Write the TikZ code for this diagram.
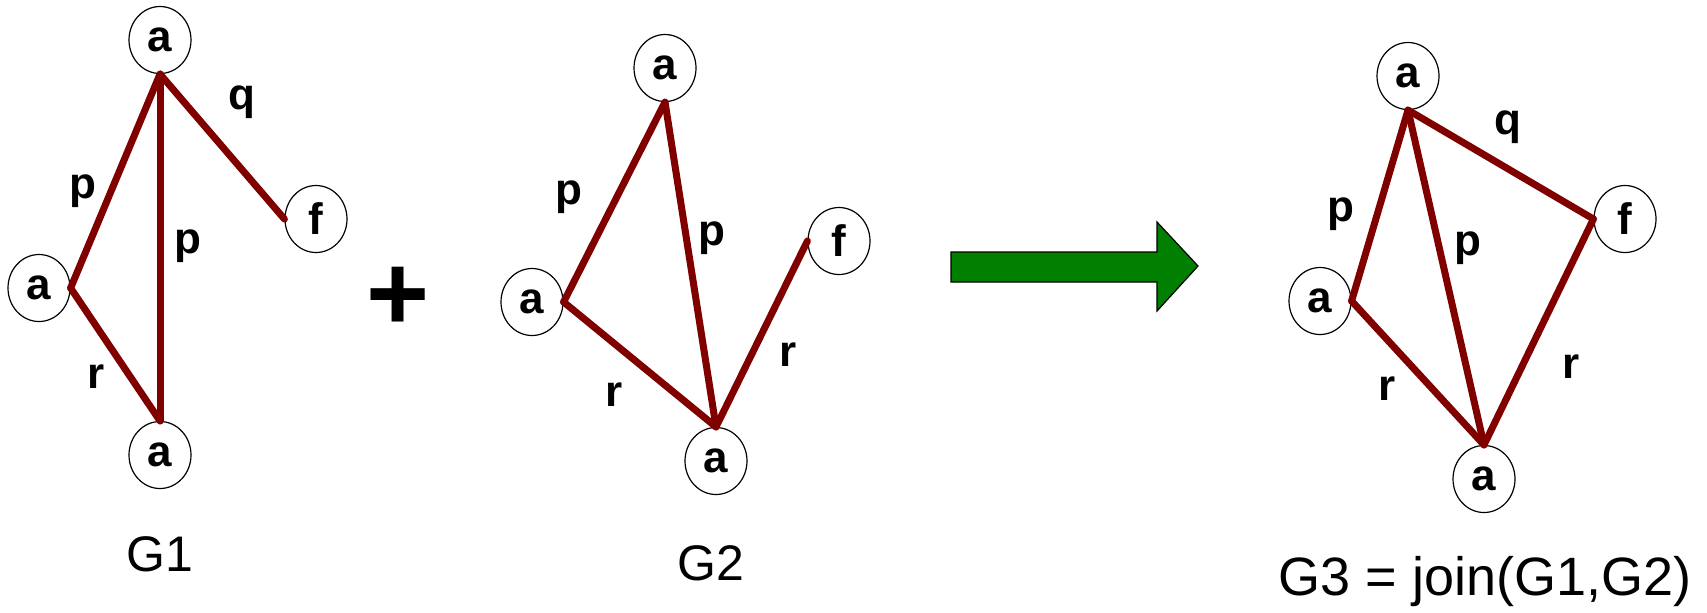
\documentclass[tikz,border=0pt]{standalone}
\usepackage{fontspec}
\setmainfont{Liberation Sans}
\usetikzlibrary{shapes.geometric}
\definecolor{edgered}{HTML}{800000}
\definecolor{arrowgreen}{HTML}{007F00}
\begin{document}
\begin{tikzpicture}[x=0.5pt,y=-0.5pt,
  vert/.style={ellipse,draw=black,line width=0.6pt,minimum width=31pt,minimum height=33.5pt,inner sep=0pt,font=\fontsize{22}{26}\selectfont\bfseries},
  elabel/.style={inner sep=0pt,font=\fontsize{22}{26}\selectfont\bfseries},
  gedge/.style={draw=edgered,line width=3.5pt,line cap=round,line join=round},
  glabel/.style={inner sep=0pt,font=\fontsize{25}{30}\selectfont},
  biglabel/.style={inner sep=0pt,font=\fontsize{27}{32}\selectfont},
  plussign/.style={inner sep=0pt,font=\fontsize{54}{60}\selectfont\bfseries},
  bigarrow/.style={fill=arrowgreen,draw=black,line width=0.6pt,line join=miter},
]
\useasboundingbox (0,0) rectangle (1707,612);

% ---------- G1 ----------
\node[vert] (g1a) at (160,40) {a};
\node[vert] (g1l) at (39,288) {a};
\node[vert] (g1b) at (160,455) {a};
\node[vert] (g1f) at (316,219) {f};
\draw[gedge] (g1a.south) -- (g1l.east);
\draw[gedge] (g1a.south) -- (g1b.north);
\draw[gedge] (g1a.south) -- (g1f.west);
\draw[gedge] (g1l.east) -- (g1b.north);
\node[elabel] (g1q) at (242,102) {q};
\node[elabel] (g1p1) at (83,191) {p};
\node[elabel] (g1p2) at (188,246) {p};
\node[elabel] (g1r) at (96,377) {r};
\node[glabel] (g1name) at (160,554) {G1};

% ---------- plus ----------
\node[plussign] (plus) at (398,299) {+};

% ---------- G2 ----------
\node[vert] (g2a) at (665,68) {a};
\node[vert] (g2l) at (532,302) {a};
\node[vert] (g2b) at (716,461) {a};
\node[vert] (g2f) at (839,241) {f};
\draw[gedge] (g2a.south) -- (g2l.east);
\draw[gedge] (g2a.south) -- (g2b.north);
\draw[gedge] (g2l.east) -- (g2b.north);
\draw[gedge] (g2b.north) -- (g2f.west);
\node[elabel] (g2p1) at (569,197) {p};
\node[elabel] (g2p2) at (712,238) {p};
\node[elabel] (g2r1) at (614,395) {r};
\node[elabel] (g2r2) at (788,355) {r};
\node[glabel] (g2name) at (711,563) {G2};

% ---------- arrow ----------
\draw[bigarrow] (951,252) -- (1157,252) -- (1157,222) -- (1198,266) -- (1157,311) -- (1157,282) -- (951,282) -- cycle;

% ---------- G3 ----------
\node[vert] (g3a) at (1408,76) {a};
\node[vert] (g3l) at (1320,301) {a};
\node[vert] (g3b) at (1484,479) {a};
\node[vert] (g3f) at (1625,219) {f};
\draw[gedge] (g3a.south) -- (g3l.east);
\draw[gedge] (g3a.south) -- (g3b.north);
\draw[gedge] (g3a.south) -- (g3f.west);
\draw[gedge] (g3l.east) -- (g3b.north);
\draw[gedge] (g3b.north) -- (g3f.west);
\node[elabel] (g3q) at (1508,127) {q};
\node[elabel] (g3p1) at (1341,214) {p};
\node[elabel] (g3p2) at (1468,248) {p};
\node[elabel] (g3r1) at (1387,389) {r};
\node[elabel] (g3r2) at (1571,367) {r};
\node[biglabel] (g3name) at (1485,582) {G3 = join(G1,G2)};
\end{tikzpicture}
\end{document}
